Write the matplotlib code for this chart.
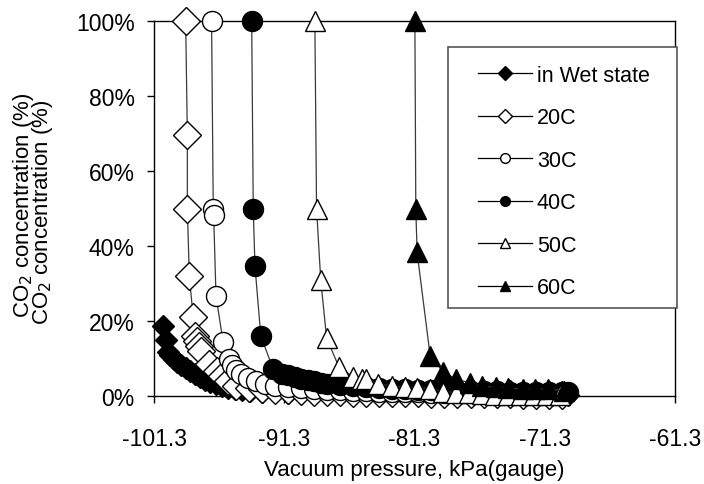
import matplotlib.pyplot as plt
from matplotlib.patches import Rectangle
from matplotlib.ticker import FuncFormatter

plt.rcParams['font.family'] = ['Liberation Sans', 'DejaVu Sans']

# vacuum pressure (kPa gauge) and CO2 concentration (%) per series
wet_x = [-100.6, -100.4, -100.25, -100.05, -99.8, -99.5, -99.2, -98.85, -98.55, -98.15,
         -97.75, -97.4, -97.0, -96.55, -96.1, -95.6, -95.1, -94.55, -93.95, -93.0,
         -92.0, -91.0, -90.0, -89.0, -88.0, -87.0, -86.0, -85.0, -84.0, -83.0,
         -82.0, -81.0, -80.0, -79.0, -78.0, -77.0, -76.0, -75.0, -74.0, -73.0,
         -72.0, -71.0, -70.0, -69.5]
wet_y = [18.8, 14.9, 11.7, 11.0, 10.0, 9.2, 8.3, 7.5, 6.7, 5.9,
         5.1, 4.3, 3.7, 3.2, 2.7, 2.1, 1.9, 1.6, 1.3, 1.1,
         1.0, 0.9, 0.8, 0.8, 0.7, 0.7, 0.6, 0.6, 0.5, 0.5,
         0.5, 0.4, 0.4, 0.4, 0.3, 0.3, 0.3, 0.3, 0.2, 0.2,
         0.2, 0.2, 0.2, 0.2]

c20_x = [-98.87, -98.74, -98.74, -98.59, -98.29, -98.15, -98.0, -97.85, -97.7, -97.1,
         -96.5, -96.1, -95.6, -95.0, -94.0, -93.0, -92.0, -91.0, -90.0, -89.0,
         -88.0, -87.0, -86.0, -85.0, -84.0, -83.0, -82.0, -81.0, -80.0, -79.0,
         -78.0, -77.0, -76.0, -75.0, -74.0, -73.0, -72.0, -71.0, -70.0]
c20_y = [100, 69.6, 50, 32, 21, 16, 14.7, 13.4, 12, 8.5,
         6.7, 5.4, 4.0, 2.7, 2.2, 1.9, 1.7, 1.5, 1.3, 1.2,
         1.1, 1.0, 0.9, 0.9, 0.8, 0.8, 0.7, 0.7, 0.6, 0.6,
         0.6, 0.5, 0.5, 0.5, 0.5, 0.4, 0.4, 0.4, 0.4]

c30_x = [-96.88, -96.75, -96.72, -96.54, -96.0, -95.55, -95.3, -95.0, -94.6, -94.1,
         -93.5, -92.8, -92.0, -91.0, -90.0, -89.0, -88.0, -87.0, -86.0, -85.0,
         -84.0, -83.0, -82.0, -81.0, -80.0, -79.0, -78.0, -77.0, -76.0, -75.0,
         -74.0, -73.0, -72.0, -71.0, -70.0]
c30_y = [100, 50, 48.3, 26.7, 14.5, 9.9, 8.2, 7.0, 5.8, 4.8,
         4.0, 3.3, 2.8, 2.4, 2.1, 1.9, 1.7, 1.5, 1.4, 1.3,
         1.2, 1.1, 1.0, 1.0, 0.9, 0.9, 0.8, 0.8, 0.8, 0.7,
         0.7, 0.7, 0.6, 0.6, 0.6]

c40_x = [-93.8, -93.68, -93.55, -93.1, -92.15, -91.5, -91.0, -90.5, -90.0, -89.5,
         -89.0, -88.5, -88.0, -87.0, -86.0, -85.0, -84.0, -83.0, -82.0, -81.0,
         -80.0, -79.0, -78.0, -77.0, -76.0, -75.0, -74.0, -73.0, -72.0, -71.0,
         -70.0, -69.5]
c40_y = [100, 50, 34.7, 16, 7.2, 6.0, 5.5, 5.0, 4.6, 4.2,
         3.9, 3.6, 3.3, 3.0, 2.7, 2.4, 2.2, 2.0, 1.8, 1.7,
         1.6, 1.5, 1.4, 1.4, 1.3, 1.3, 1.2, 1.2, 1.1, 1.1,
         1.0, 1.0]

c50_x = [-88.95, -88.82, -88.5, -88.05, -87.1, -86.0, -85.35, -85.0, -84.1, -83.05,
         -82.0, -81.1, -80.1, -79.1, -78.1, -77.1, -76.1, -75.1, -74.1, -73.1,
         -72.1, -71.1, -70.1]
c50_y = [100, 50, 31, 15.5, 7.7, 5.1, 4.5, 4.5, 3.2, 2.7,
         2.4, 2.2, 1.9, 1.2, 0.9, 0.7, 0.5, 0.4, 0.3, 0.3,
         0.2, 0.2, 0.2]

c60_x = [-81.27, -81.2, -81.1, -80.1, -79.1, -78.1, -77.05, -76.1, -75.05, -74.1,
         -73.0, -72.06, -71.04, -69.8]
c60_y = [100, 50, 38.3, 10.8, 6.4, 4.5, 3.5, 2.7, 2.3, 2.1,
         1.9, 1.9, 1.8, 1.4]

labels = ['in Wet state', '20C', '30C', '40C', '50C', '60C']
xticks = [-101.3, -91.3, -81.3, -71.3, -61.3]
yticks = [0, 20, 40, 60, 80, 100]

series = [
    (wet_x, wet_y, 'D', 10.8, 'black'),
    (c20_x, c20_y, 'D', 14.4, 'white'),
    (c30_x, c30_y, 'o', 14.4, 'white'),
    (c40_x, c40_y, 'o', 14.4, 'black'),
    (c50_x, c50_y, '^', 14.4, 'white'),
    (c60_x, c60_y, '^', 14.4, 'black'),
]
legend_ms = [7.5, 7.5, 7.0, 7.0, 7.5, 7.5]

W, H = 704, 485
fig = plt.figure(figsize=(W / 100, H / 100), dpi=100)
ax = fig.add_axes([154 / W, 1 - 397 / H, (675 - 154) / W, (397 - 22) / H])

handles = []
for (xs, ys, mk, ms, fc), lab in zip(series, labels):
    h, = ax.plot(xs, ys, color='#3a3a3a', lw=0.9, marker=mk, ms=ms,
                 mfc=fc, mec='black', mew=1.0, label=lab, clip_on=False, zorder=3)
    handles.append(h)

ax.set_xlim(-101.3, -61.3)
ax.set_ylim(0, 100)
ax.set_xticks(xticks)
ax.set_xticklabels(['%.1f' % t for t in xticks])
ax.set_yticks(yticks)
ax.yaxis.set_major_formatter(FuncFormatter(lambda v, p: '%d%%' % v))
ax.tick_params(axis='both', direction='out', length=5, width=1, labelsize=16.5, color='black')
ax.tick_params(axis='x', pad=17)
ax.tick_params(axis='y', pad=9)
for s in ax.spines.values():
    s.set_linewidth(1.0)
    s.set_color('black')

fig.text(414.5 / W, 1 - 471 / H, 'Vacuum pressure, kPa(gauge)', ha='center', va='center', fontsize=16)
# doubled axis title as it shows in the source picture
fig.text(24 / W, 1 - 205 / H, 'CO$_2$ concentration (%)', rotation=90, ha='center', va='center', fontsize=16)
fig.text(43 / W, 1 - 212 / H, 'CO$_2$ concentration (%)', rotation=90, ha='center', va='center', fontsize=16)

# legend box
fig.patches.append(Rectangle((448 / W, 1 - 309 / H), (677 - 448) / W, (309 - 48) / H,
                             transform=fig.transFigure, fill=True, facecolor='white',
                             edgecolor='#555555', lw=1.2, zorder=5))
leg = fig.legend(handles, labels, loc='upper left', bbox_to_anchor=(467 / W, 1 - 55 / H),
                 frameon=False, fontsize=15.5, borderpad=0, handlelength=2.5,
                 handletextpad=0.25, labelspacing=1.0)
leg.set_zorder(6)
for lh, lms in zip(leg.legend_handles, legend_ms):
    lh.set_color('black')
    lh.set_markeredgecolor('black')
    lh.set_markersize(lms)
    lh.set_linewidth(0.9)

fig.savefig('out.png', dpi=100)
